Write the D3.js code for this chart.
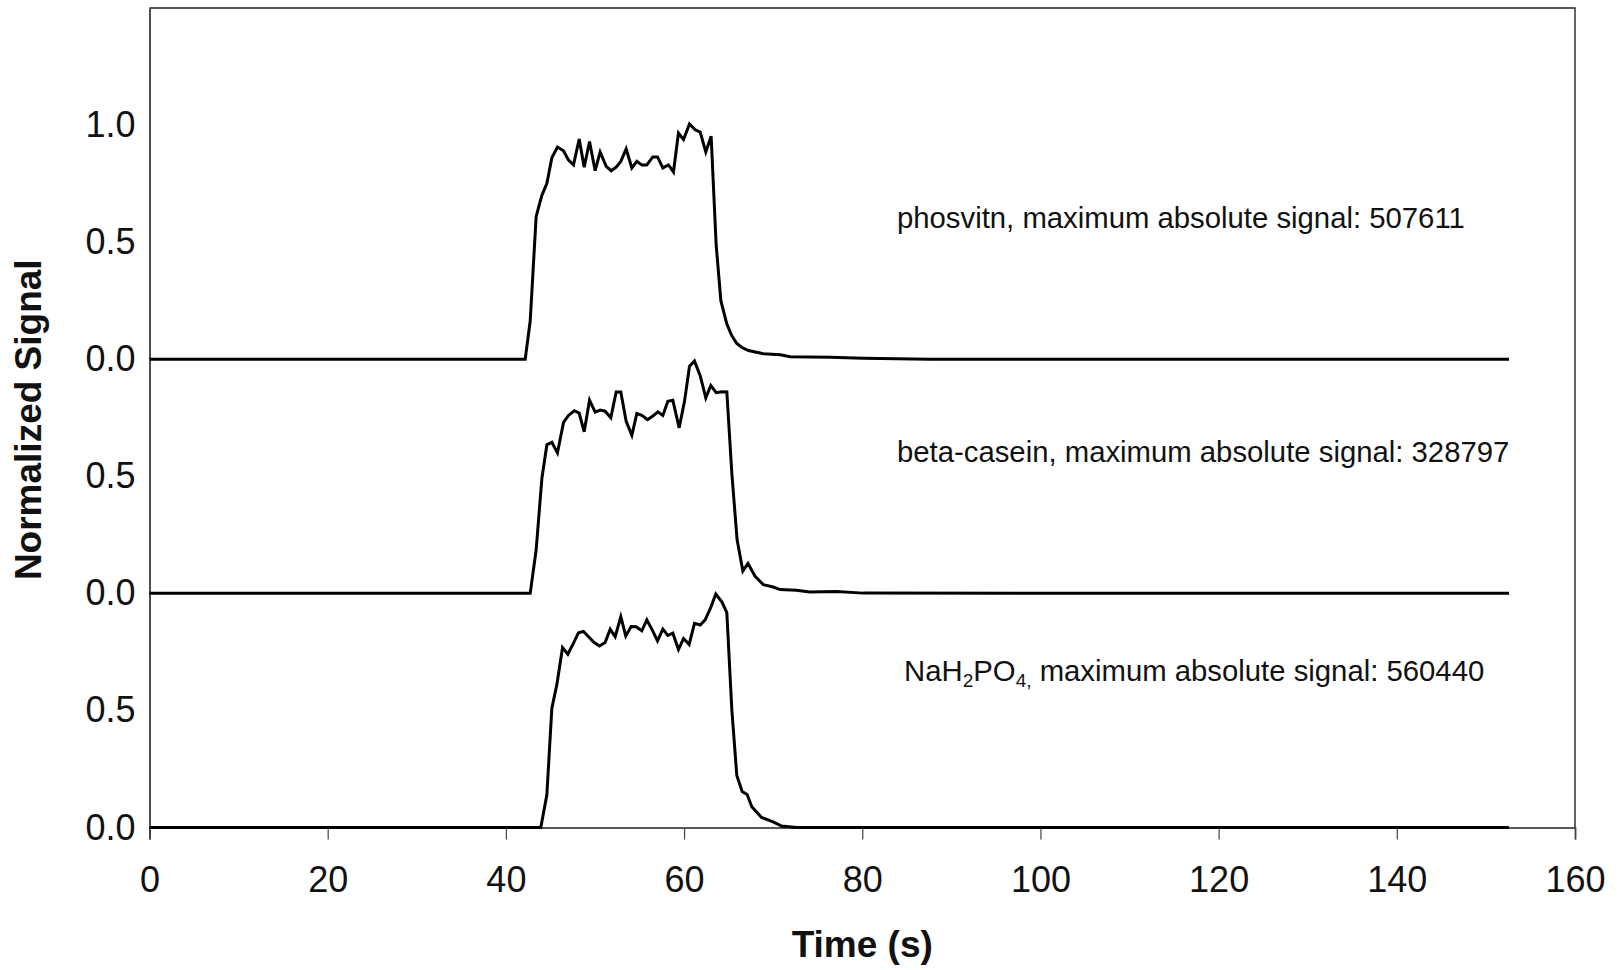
<!DOCTYPE html>
<html>
<head>
<meta charset="utf-8">
<script src="https://cdn.jsdelivr.net/npm/d3@7"></script>
<style>
  html, body { margin: 0; padding: 0; background: #fff; }
  svg { display: block; }
  text { font-family: "Liberation Sans", Arial, sans-serif; fill: #111; }
</style>
</head>
<body>
<svg id="chart" width="1620" height="970"></svg>
<script>
// ---------------- data (time in s, normalized signal) ----------------
const phosvitin = [
  [0,0],[42.17,0],[42.73,0.163],[43.40,0.61],[44.04,0.70],[44.60,0.75],[45.16,0.86],[45.79,0.906],
  [46.47,0.89],[47.03,0.85],[47.59,0.83],[48.23,0.94],[48.79,0.82],[49.39,0.93],[50.02,0.805],
  [50.58,0.885],[51.26,0.824],[51.82,0.805],[52.38,0.82],[52.90,0.845],[53.50,0.898],[54.14,0.817],
  [54.70,0.845],[55.26,0.83],[55.82,0.83],[56.49,0.864],[57.02,0.864],[57.62,0.817],[58.25,0.83],
  [58.81,0.80],[59.37,0.966],[59.94,0.938],[60.61,1.005],[61.25,0.98],[61.81,0.97],[62.44,0.885],
  [63.04,0.952],[63.60,0.49],[64.13,0.25],[64.80,0.15],[65.36,0.10],[65.92,0.067],[66.50,0.05],
  [67.23,0.037],[68.90,0.023],[70.80,0.019],[71.90,0.011],[76.40,0.008],[80.10,0.004],[87.60,0],[152.6,0]
];
const betaCasein = [
  [0,0],[42.73,0],[43.40,0.186],[44.04,0.49],[44.60,0.635],[45.16,0.645],[45.79,0.60],[46.47,0.73],
  [47.03,0.76],[47.67,0.78],[48.23,0.77],[48.79,0.69],[49.39,0.825],[50.02,0.774],[50.58,0.783],
  [51.14,0.778],[51.78,0.75],[52.38,0.86],[52.90,0.86],[53.50,0.735],[54.14,0.675],[54.70,0.768],
  [55.26,0.76],[55.90,0.742],[56.49,0.757],[57.06,0.775],[57.62,0.76],[58.18,0.82],[58.74,0.825],
  [59.45,0.707],[60.05,0.82],[60.61,0.97],[61.17,0.992],[61.81,0.93],[62.44,0.835],[63.00,0.888],
  [63.60,0.857],[64.24,0.861],[64.80,0.86],[65.36,0.514],[65.95,0.23],[66.60,0.095],[67.17,0.128],
  [67.97,0.073],[68.90,0.037],[70.00,0.027],[70.80,0.016],[72.60,0.013],[74.10,0.006],[77.10,0.008],
  [80.10,0.001],[152.6,0]
];
const nah2po4 = [
  [0,0],[43.92,0],[44.60,0.14],[45.16,0.51],[45.72,0.61],[46.36,0.768],[46.95,0.74],[47.52,0.782],
  [48.15,0.832],[48.71,0.837],[49.27,0.815],[49.91,0.79],[50.51,0.775],[51.14,0.79],[51.71,0.847],
  [52.27,0.815],[52.90,0.90],[53.46,0.818],[54.06,0.858],[54.62,0.857],[55.26,0.84],[55.82,0.887],
  [56.38,0.847],[57.02,0.797],[57.62,0.847],[58.18,0.82],[58.74,0.83],[59.37,0.76],[59.94,0.807],
  [60.57,0.782],[61.17,0.872],[61.81,0.865],[62.37,0.887],[63.00,0.94],[63.56,0.997],[64.24,0.964],
  [64.80,0.918],[65.36,0.504],[65.92,0.222],[66.52,0.154],[67.08,0.141],[67.60,0.089],[68.70,0.043],
  [70.00,0.024],[70.95,0.006],[72.60,0],[152.6,0]
];
// stacked panels: vertical offset of each trace (in signal units)
const seriesOffsets = [2, 1, 0];
const seriesNames = ["phosvitn", "beta-casein", "NaH2PO4"];
const maxSignals = ["507611", "328797", "560440"];

const xTickValues = [0, 20, 40, 60, 80, 100, 120, 140, 160];
const yTickValues = [0, 0.5, 1, 1.5, 2, 2.5, 3];
const yTickLabels = ["0.0", "0.5", "0.0", "0.5", "0.0", "0.5", "1.0"];

// ---------------- layout ----------------
const svg = d3.select("#chart");
const mLeft = 149.5, mRight = 1575, mTop = 8, mBottom = 827.5;

const x = d3.scaleLinear().domain([0, 160]).range([mLeft, mRight]);
const y = d3.scaleLinear().domain([0, 3.5]).range([mBottom, mTop]);

// frame (top and right)
svg.append("path")
  .attr("d", `M${mLeft},${mTop}H${mRight}V${mBottom}`)
  .attr("fill", "none").attr("stroke", "#222").attr("stroke-width", 1.4);

// x axis
const xAxis = d3.axisBottom(x).tickValues(xTickValues).tickSize(12).tickPadding(27)
  .tickFormat(d3.format("d"));
const gx = svg.append("g").attr("transform", `translate(0,${mBottom})`).call(xAxis);
gx.select(".domain").attr("stroke", "#222").attr("stroke-width", 1.6);
gx.selectAll(".tick line").attr("stroke", "#444").attr("stroke-width", 1.2);
gx.selectAll(".tick text").attr("font-size", 36).attr("font-family", "Liberation Sans, Arial, sans-serif")
  .attr("fill", "#111");

// y axis
const yAxis = d3.axisLeft(y).tickValues(yTickValues).tickSize(0).tickPadding(14)
  .tickFormat((d, i) => yTickLabels[i]);
const gy = svg.append("g").attr("transform", `translate(${mLeft},0)`).call(yAxis);
gy.select(".domain").attr("stroke", "#222").attr("stroke-width", 1.6);
gy.selectAll(".tick text").attr("font-size", 36).attr("font-family", "Liberation Sans, Arial, sans-serif")
  .attr("fill", "#111");

// traces
const allSeries = [phosvitin, betaCasein, nah2po4];
allSeries.forEach((s, i) => {
  const off = seriesOffsets[i];
  const line = d3.line().x(d => x(d[0])).y(d => y(d[1] + off));
  svg.append("path").datum(s)
    .attr("d", line)
    .attr("fill", "none")
    .attr("stroke", "#000")
    .attr("stroke-width", 3)
    .attr("stroke-linejoin", "miter");
});

// annotations
const annoFont = 29.3;
const annoPos = [[83.9, 0.562], [83.9, 0.563], [84.7, 0.626]];
allSeries.forEach((s, i) => {
  const t = svg.append("text")
    .attr("x", x(annoPos[i][0]))
    .attr("y", y(annoPos[i][1] + seriesOffsets[i]))
    .attr("font-size", annoFont);
  if (seriesNames[i] === "NaH2PO4") {
    t.append("tspan").text("NaH");
    t.append("tspan").attr("font-size", 19).attr("dy", 6).text("2");
    t.append("tspan").attr("dy", -6).text("PO");
    t.append("tspan").attr("font-size", 19).attr("dy", 6).text("4,");
    t.append("tspan").attr("dy", -6).text(" maximum absolute signal: " + maxSignals[i]);
  } else {
    t.text(seriesNames[i] + ", maximum absolute signal: " + maxSignals[i]);
  }
});

// axis titles
svg.append("text")
  .attr("x", (mLeft + mRight) / 2).attr("y", 957)
  .attr("text-anchor", "middle")
  .attr("font-size", 37).attr("font-weight", "bold")
  .text("Time (s)");

svg.append("text")
  .attr("transform", `translate(41,${(mTop + mBottom) / 2 + 2}) rotate(-90)`)
  .attr("text-anchor", "middle")
  .attr("font-size", 37).attr("font-weight", "bold")
  .text("Normalized Signal");
</script>
</body>
</html>
